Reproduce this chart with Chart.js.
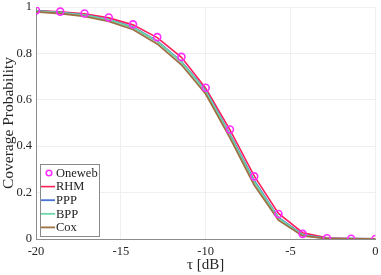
<!DOCTYPE html>
<html>
<head>
<meta charset="utf-8">
<script src="https://cdn.jsdelivr.net/npm/chart.js@4/dist/chart.umd.min.js"></script>
<style>
  html, body { margin: 0; padding: 0; background: #fff; }
  #wrap { width: 381px; height: 275px; }
</style>
</head>
<body>
<div id="wrap"><canvas id="cov" width="381" height="275"></canvas></div>
<script>
// tau [dB] sample points
const tau = [-20, -18.571, -17.143, -15.714, -14.286, -12.857, -11.429, -10,
             -8.571, -7.143, -5.714, -4.286, -2.857, -1.429, 0];

// coverage probability per model
const oneweb = [0.985, 0.980, 0.972, 0.955, 0.925, 0.870, 0.785, 0.652, 0.472, 0.270, 0.108, 0.022, 0.003, 0.001, 0.000];
const rhm    = [0.985, 0.979, 0.971, 0.953, 0.923, 0.868, 0.783, 0.650, 0.470, 0.272, 0.110, 0.027, 0.005, 0.002, 0.001];
const ppp    = [0.983, 0.977, 0.966, 0.946, 0.913, 0.853, 0.765, 0.640, 0.452, 0.252, 0.093, 0.018, 0.003, 0.001, 0.000];
const bpp    = [0.982, 0.976, 0.965, 0.944, 0.911, 0.851, 0.762, 0.637, 0.448, 0.247, 0.090, 0.016, 0.002, 0.001, 0.000];
const cox    = [0.979, 0.972, 0.960, 0.938, 0.903, 0.841, 0.751, 0.625, 0.436, 0.233, 0.081, 0.013, 0.002, 0.000, 0.000];

const xTicks = [-20, -15, -10, -5, 0];
const yTicks = [0, 0.2, 0.4, 0.6, 0.8, 1];

const FONT = '"Liberation Serif", "Times New Roman", serif';

function pts(ys) {
    return tau.map((t, i) => ({ x: t, y: ys[i] }));
}

// order: lower number is drawn on top
const series = [
    { label: 'Oneweb', data: oneweb, color: '#ff2bff', marker: true, order: 0 },
    { label: 'RHM', data: rhm, color: '#ff1f5a', width: 1.6, order: 4 },
    { label: 'PPP', data: ppp, color: '#4a72d4', width: 1.8, order: 3 },
    { label: 'BPP', data: bpp, color: '#6cd6a6', width: 1.8, order: 2 },
    { label: 'Cox', data: cox, color: '#a07044', width: 1.8, order: 1 }
];

const datasets = series.map(s => s.marker ? {
    label: s.label,
    data: pts(s.data),
    showLine: false,
    borderColor: s.color,
    backgroundColor: 'rgba(0,0,0,0)',
    pointRadius: 3.5,
    pointBorderWidth: 1.6,
    order: s.order
} : {
    label: s.label,
    data: pts(s.data),
    borderColor: s.color,
    borderWidth: s.width,
    pointRadius: 0,
    tension: 0,
    fill: false,
    order: s.order
});

// legend box drawn inside the plot area, lower left
const insideLegend = {
    id: 'insideLegend',
    afterDatasetsDraw(chart) {
        const { ctx, chartArea } = chart;
        const x0 = chartArea.left + 4;
        const y0 = chartArea.bottom - 75;
        const w = 59, h = 72, row = 13.6;
        ctx.save();
        ctx.fillStyle = '#fff';
        ctx.strokeStyle = '#8a8a8a';
        ctx.lineWidth = 1;
        ctx.fillRect(x0, y0, w, h);
        ctx.strokeRect(x0 + 0.5, y0 + 0.5, w, h);
        ctx.font = '12.5px ' + FONT;
        ctx.textBaseline = 'middle';
        series.forEach((s, i) => {
            const cy = y0 + 9 + i * row;
            if (s.marker) {
                ctx.strokeStyle = s.color;
                ctx.lineWidth = 1.6;
                ctx.beginPath();
                ctx.arc(x0 + 9, cy, 2.8, 0, Math.PI * 2);
                ctx.stroke();
            } else {
                ctx.strokeStyle = s.color;
                ctx.lineWidth = s.width;
                ctx.beginPath();
                ctx.moveTo(x0 + 1, cy);
                ctx.lineTo(x0 + 15, cy);
                ctx.stroke();
            }
            ctx.fillStyle = '#222';
            ctx.fillText(s.label, x0 + 16, cy + 0.5);
        });
        ctx.restore();
    }
};

new Chart(document.getElementById('cov'), {
    type: 'line',
    data: { datasets: datasets },
    options: {
        responsive: false,
        animation: false,
        devicePixelRatio: 1,
        layout: { padding: { top: 7, right: 3.5, left: 0, bottom: 0 } },
        plugins: { legend: { display: false }, tooltip: { enabled: false } },
        scales: {
            x: {
                type: 'linear',
                min: -20,
                max: 0,
                afterBuildTicks: s => { s.ticks = xTicks.map(v => ({ value: v })); },
                afterFit: s => { s.height = 36; s.paddingLeft = 0; s.paddingRight = 0; },
                grid: { color: '#efefef', drawTicks: false },
                border: { display: true, color: '#8c8c8c' },
                ticks: { color: '#262626', font: { family: FONT, size: 12.5 }, padding: 5, maxRotation: 0 },
                title: {
                    display: true,
                    text: 'τ [dB]',
                    color: '#262626',
                    font: { family: FONT, size: 15 },
                    padding: { top: 0, bottom: 1 }
                }
            },
            y: {
                type: 'linear',
                min: 0,
                max: 1,
                afterBuildTicks: s => { s.ticks = yTicks.map(v => ({ value: v })); },
                afterFit: s => { s.width = 36; s.paddingTop = 0; s.paddingBottom = 0; },
                grid: { color: '#efefef', drawTicks: false },
                border: { display: true, color: '#8c8c8c' },
                ticks: {
                    color: '#262626',
                    font: { family: FONT, size: 12.5 },
                    padding: 4,
                    callback: v => String(Math.round(v * 10) / 10)
                },
                title: {
                    display: true,
                    text: 'Coverage Probability',
                    color: '#262626',
                    font: { family: FONT, size: 15.5, lineHeight: 1.1 },
                    padding: 0
                }
            }
        }
    },
    plugins: [insideLegend]
});
</script>
</body>
</html>
